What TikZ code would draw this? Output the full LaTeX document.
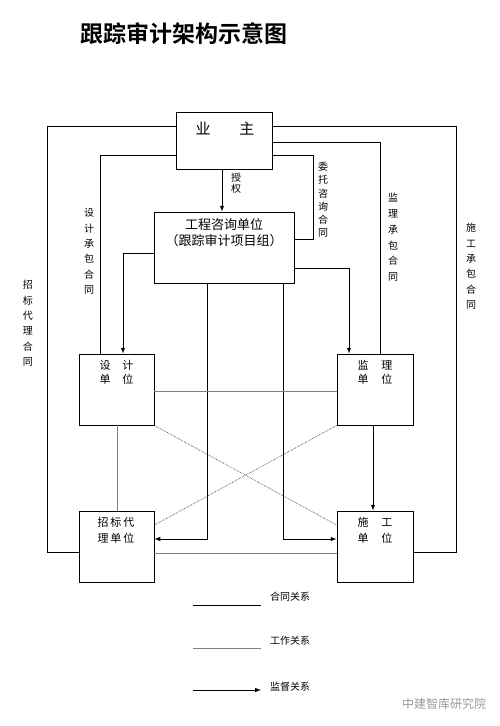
\documentclass[tikz,border=0pt]{standalone}
\usepackage{fontspec}
\setmainfont{Noto Sans CJK SC}[BoldFont={Noto Sans CJK SC Bold}]
\usepackage{tikz}
\usetikzlibrary{arrows,calc}
\usetikzlibrary{positioning}
\tikzset{
	unita/.style={draw, line width=0.9pt, minimum width=#1, minimum height=71pt, inner sep=0pt},
	testo/.style={font=\fontsize{11}{14}\selectfont, align=center, inner sep=0pt},
	verticale/.style={font=\fontsize{10}{#1}\selectfont, align=center, inner sep=0pt},
	contratto/.style={draw, line width=1pt},
	lavoro/.style={draw, gray, line width=0.7pt},
	vigilanza/.style={draw, line width=1pt, -latex},
	incrocio/.style={draw, black!85, line width=0.6pt, densely dotted}
}

\begin{document}
\begin{tikzpicture}[x=1pt, y=-1pt]
  \useasboundingbox (0,0) rectangle (500,726);

  \node[font=\fontsize{23}{23}\selectfont\bfseries, inner sep=0pt] (titolo) at (183.5,34) {跟踪审计架构示意图};

  % unita
  \node[draw, line width=0.9pt, minimum width=96pt, minimum height=57pt, inner sep=0pt] (yezhu) at (224,140.5) {};
  \node[font=\fontsize{15}{15}\selectfont, inner sep=0pt] (yezhu-t) at (225,129) {业\hspace{29pt}主};
  \node[draw, line width=0.9pt, minimum width=140pt, minimum height=71pt, inner sep=0pt] (zixun) at (224,247.5) {};
  \node[font=\fontsize{13}{16}\selectfont, align=center, inner sep=0pt] (zixun-t) at (224,233) {工程咨询单位\\（跟踪审计项目组）};

  \node[unita=75pt] (sheji) at (116.5,389.5) {};
  \node[unita=76pt] (jianli) at (375,389.5) {};
  \node[unita=75pt] (zhaobiao) at (116.5,546.5) {};
  \node[unita=76pt] (shigong) at (375,546.5) {};
  \node[testo] (sheji-t) at (116.5,372.5) {设\hspace{12pt}计\\单\hspace{12pt}位};
  \node[testo] (jianli-t) at (375,372.5) {监\hspace{13pt}理\\单\hspace{13pt}位};
  \node[testo, font=\fontsize{11}{16}\selectfont] (zhaobiao-t) at (116,530) {招\,标\,代\\理\,单\,位};
  \node[testo, font=\fontsize{11}{16}\selectfont] (shigong-t) at (375,530) {施\hspace{13pt}工\\单\hspace{13pt}位};

  % contratti
  \path[contratto] (yezhu.west |- 0,126) -| (47,552) -- (zhaobiao.west |- 0,552);
  \path[contratto] (yezhu.east |- 0,126) -| (456,552) -- (shigong.east |- 0,552);
  \path[contratto] (yezhu.west |- 0,155) -| (sheji.north -| 100,0);
  \path[contratto] (yezhu.east |- 0,142) -| (jianli.north -| 380,0);
  \path[contratto] (yezhu.east |- 0,155) -| (313,239) -- (zixun.east |- 0,239);

  % vigilanza
  \path[vigilanza] (yezhu.south -| 222,0) -- (zixun.north -| 222,0);
  \path[vigilanza] (zixun.west |- 0,253) -| (sheji.north -| 123,0);
  \path[vigilanza] (zixun.east |- 0,268) -| (jianli.north -| 349,0);
  \path[vigilanza] (zixun.south -| 207,0) |- (zhaobiao.east |- 0,539);
  \path[vigilanza] (zixun.south -| 283,0) |- (shigong.west |- 0,539);
  \path[vigilanza] (jianli.south -| 373,0) -- (shigong.north -| 373,0);

  % lavoro
  \path[lavoro] (sheji.east |- 0,391) -- (jianli.west |- 0,391);
  \path[lavoro] (sheji.south -| 117,0) -- (zhaobiao.north -| 117,0);
  \path[lavoro] (zhaobiao.east |- 0,553) -- (shigong.west |- 0,553);
  \path[incrocio] (sheji.south east) -- (shigong.west |- 0,525);
  \path[incrocio] (jianli.south west) -- (zhaobiao.east |- 0,525);

  % etichette
  \node[verticale=11] (shouquan) at (236,183.5) {授\\权};
  \node[verticale=15.4] (sjcb) at (89,251.5) {设\\计\\承\\包\\合\\同};
  \node[verticale=15.4] (zbdl) at (28,323.5) {招\\标\\代\\理\\合\\同};
  \node[verticale=13.2] (wtzx) at (323,200) {委\\托\\咨\\询\\合\\同};
  \node[verticale=15.8] (jlcb) at (393,237.5) {监\\理\\承\\包\\合\\同};
  \node[verticale=15.4] (sgcb) at (471,266.5) {施\\工\\承\\包\\合\\同};

  % legenda
  \coordinate (l1a) at (193,605);  \coordinate (l1b) at (261,605);
  \coordinate (l2a) at (193,648);  \coordinate (l2b) at (261,648);
  \coordinate (l3a) at (193,690);  \coordinate (l3b) at (261,690);
  \path[contratto] (l1a) -- (l1b);
  \path[lavoro] (l2a) -- (l2b);
  \path[vigilanza] (l3a) -- (l3b);
  \node[font=\fontsize{10}{10}\selectfont, inner sep=0pt] (leg1) at (290,597) {合同关系};
  \node[font=\fontsize{10}{10}\selectfont, inner sep=0pt] (leg2) at (290,641) {工作关系};
  \node[font=\fontsize{10}{10}\selectfont, inner sep=0pt] (leg3) at (290,687) {监督关系};

  \node[font=\fontsize{12}{12}\selectfont, gray!80, inner sep=0pt] (marchio) at (444,704) {中建智库研究院};
\end{tikzpicture}
\end{document}
